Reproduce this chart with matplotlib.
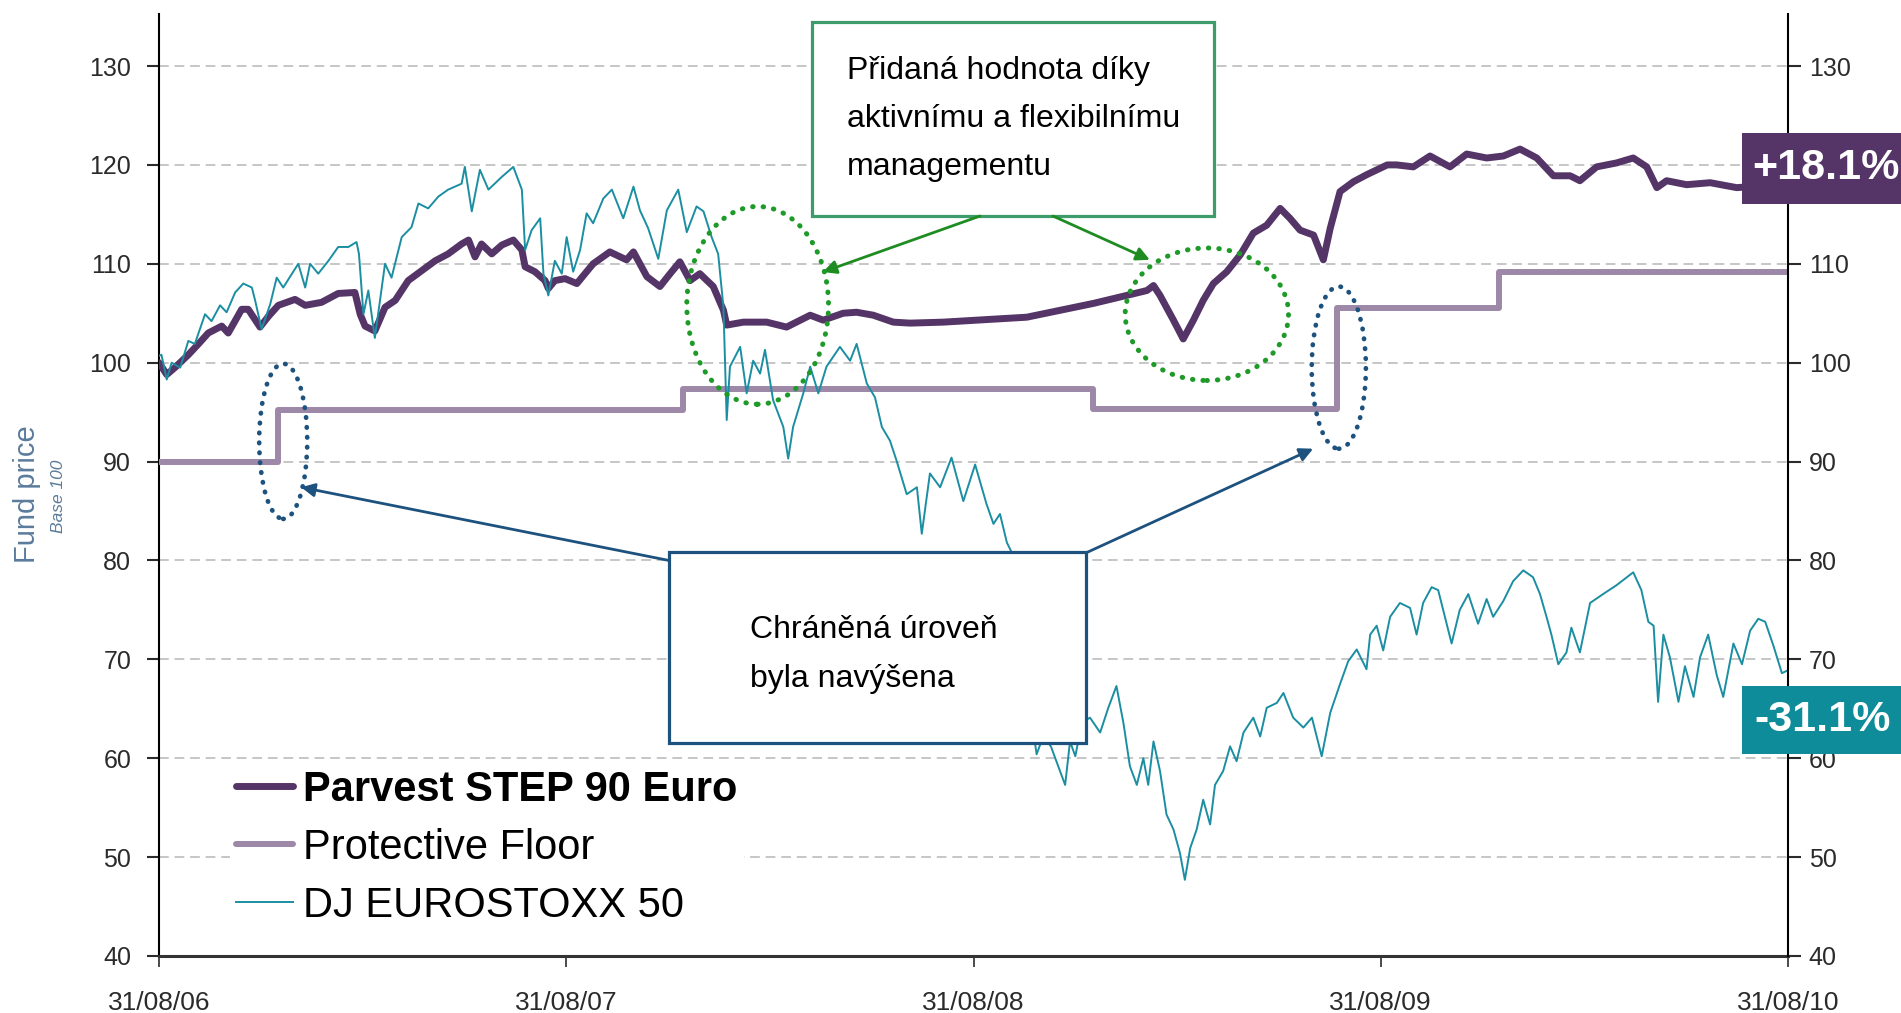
import matplotlib.pyplot as plt
from matplotlib.patches import Ellipse, Rectangle

plt.rcParams["font.family"] = ["Liberation Sans", "DejaVu Sans"]

# x values are years since 31/08/06
x_ticks = [0, 1, 2, 3, 4]
x_labels = ["31/08/06", "31/08/07", "31/08/08", "31/08/09", "31/08/10"]
y_ticks = [40, 50, 60, 70, 80, 90, 100, 110, 120, 130]

series_labels = ["Parvest STEP 90 Euro", "Protective Floor", "DJ EUROSTOXX 50"]

fund_x = [0.000, 0.019, 0.039, 0.072, 0.097, 0.121, 0.154, 0.170, 0.203, 0.219,
          0.248, 0.269, 0.293, 0.334, 0.359, 0.399, 0.440, 0.481, 0.494, 0.506,
          0.530, 0.555, 0.580, 0.612, 0.645, 0.678, 0.710, 0.743, 0.760, 0.776,
          0.792, 0.817, 0.842, 0.870, 0.891, 0.899, 0.923, 0.948, 0.956, 0.972,
          0.997, 1.026, 1.066, 1.107, 1.148, 1.165, 1.198, 1.230, 1.255, 1.279,
          1.304, 1.328, 1.361, 1.386, 1.394, 1.435, 1.492, 1.541, 1.599, 1.631,
          1.680, 1.713, 1.754, 1.803, 1.844, 1.926, 2.008, 2.049, 2.131, 2.213,
          2.295, 2.376, 2.426, 2.442, 2.458, 2.491, 2.515, 2.540, 2.564, 2.589,
          2.622, 2.655, 2.687, 2.720, 2.753, 2.777, 2.802, 2.835, 2.859, 2.876,
          2.900, 2.933, 2.965, 3.016, 3.039, 3.080, 3.121, 3.170, 3.211, 3.260,
          3.301, 3.342, 3.383, 3.424, 3.465, 3.489, 3.530, 3.579, 3.620, 3.653,
          3.678, 3.702, 3.751, 3.809, 3.874, 3.940, 4.000]
fund_y = [100.0, 98.8, 99.5, 100.8, 101.9, 103.0, 103.7, 103.0, 105.4, 105.4,
          103.6, 104.7, 105.8, 106.4, 105.8, 106.1, 107.0, 107.1, 104.9, 103.7,
          103.2, 105.6, 106.3, 108.3, 109.3, 110.3, 111.0, 112.0, 112.4, 110.7,
          112.0, 111.0, 111.9, 112.4, 111.4, 109.7, 109.2, 108.3, 107.5, 108.3,
          108.5, 108.0, 110.0, 111.2, 110.4, 111.2, 108.7, 107.7, 109.0, 110.2,
          108.3, 109.0, 107.7, 105.3, 103.8, 104.1, 104.1, 103.6, 104.8, 104.3,
          105.0, 105.1, 104.8, 104.1, 104.0, 104.1, 104.3, 104.4, 104.6, 105.3,
          106.0, 106.8, 107.3, 107.8, 106.8, 104.3, 102.4, 104.3, 106.3, 108.0,
          109.2, 110.9, 113.1, 113.9, 115.6, 114.6, 113.4, 112.9, 110.4, 113.6,
          117.3, 118.3, 119.0, 120.0, 120.0, 119.8, 120.9, 119.8, 121.1, 120.7,
          120.9, 121.6, 120.7, 118.9, 118.9, 118.4, 119.8, 120.2, 120.7, 119.8,
          117.7, 118.4, 118.0, 118.2, 117.7, 117.9, 118.1]

floor_x = [0.0, 0.293, 1.287, 2.294, 2.892, 3.290, 4.0]
floor_y = [90.0, 95.2, 97.3, 95.3, 105.5, 109.2, 109.2]

stoxx_x = [0.000, 0.006, 0.019, 0.031, 0.052, 0.072, 0.088, 0.113, 0.129, 0.150,
           0.166, 0.187, 0.207, 0.228, 0.236, 0.252, 0.273, 0.289, 0.305, 0.342,
           0.359, 0.371, 0.391, 0.416, 0.440, 0.465, 0.485, 0.491, 0.502, 0.514,
           0.530, 0.555, 0.571, 0.596, 0.620, 0.637, 0.661, 0.686, 0.710, 0.743,
           0.751, 0.768, 0.788, 0.809, 0.842, 0.870, 0.891, 0.899, 0.915, 0.936,
           0.944, 0.956, 0.972, 0.989, 1.001, 1.017, 1.034, 1.050, 1.066, 1.091,
           1.112, 1.140, 1.165, 1.181, 1.201, 1.226, 1.247, 1.275, 1.296, 1.320,
           1.337, 1.357, 1.373, 1.386, 1.394, 1.402, 1.427, 1.443, 1.459, 1.476,
           1.488, 1.508, 1.533, 1.545, 1.557, 1.582, 1.599, 1.619, 1.639, 1.672,
           1.697, 1.713, 1.738, 1.758, 1.775, 1.795, 1.811, 1.836, 1.861, 1.873,
           1.893, 1.918, 1.946, 1.975, 2.004, 2.032, 2.049, 2.065, 2.082, 2.094,
           2.115, 2.135, 2.155, 2.171, 2.190, 2.225, 2.237, 2.250, 2.266, 2.286,
           2.311, 2.331, 2.351, 2.368, 2.384, 2.401, 2.417, 2.429, 2.442, 2.458,
           2.474, 2.491, 2.507, 2.519, 2.532, 2.548, 2.564, 2.581, 2.593, 2.613,
           2.630, 2.646, 2.663, 2.687, 2.704, 2.720, 2.745, 2.761, 2.785, 2.810,
           2.831, 2.855, 2.876, 2.900, 2.920, 2.941, 2.965, 2.974, 2.990, 3.006,
           3.023, 3.047, 3.072, 3.088, 3.104, 3.125, 3.141, 3.174, 3.194, 3.215,
           3.239, 3.260, 3.276, 3.301, 3.325, 3.350, 3.374, 3.391, 3.407, 3.419,
           3.436, 3.456, 3.468, 3.489, 3.514, 3.546, 3.579, 3.620, 3.640, 3.657,
           3.670, 3.681, 3.694, 3.710, 3.731, 3.747, 3.768, 3.784, 3.804, 3.825,
           3.841, 3.866, 3.887, 3.907, 3.927, 3.944, 3.964, 3.985, 4.000]
stoxx_y = [100.7, 100.8, 98.3, 100.0, 99.5, 102.2, 101.9, 104.9, 104.2, 105.8,
           105.1, 107.1, 108.0, 107.6, 106.3, 103.4, 105.9, 108.6, 107.6, 110.0,
           107.6, 110.0, 109.0, 110.3, 111.7, 111.7, 112.2, 111.0, 104.9, 107.3,
           102.5, 110.0, 108.6, 112.7, 113.7, 116.1, 115.6, 116.8, 117.5, 118.1,
           119.8, 115.3, 119.5, 117.5, 118.8, 119.8, 117.5, 111.4, 113.4, 114.6,
           109.0, 106.8, 110.3, 109.0, 112.7, 109.2, 111.4, 115.1, 114.1, 116.6,
           117.5, 114.6, 117.8, 115.4, 113.6, 110.5, 115.4, 117.5, 113.2, 115.8,
           115.3, 112.7, 111.0, 105.6, 94.2, 99.6, 101.6, 96.9, 100.2, 98.9,
           101.3, 96.2, 93.5, 90.3, 93.5, 96.9, 99.6, 96.9, 99.6, 101.6,
           100.2, 101.9, 97.9, 96.5, 93.5, 92.1, 90.1, 86.7, 87.4, 82.7,
           88.8, 87.4, 90.4, 86.0, 89.7, 85.7, 83.7, 84.7, 81.8, 80.8,
           74.0, 66.0, 60.4, 62.2, 61.2, 57.3, 61.7, 60.2, 63.6, 64.1,
           62.6, 65.1, 67.3, 63.6, 59.2, 57.3, 60.0, 57.3, 61.7, 58.7,
           54.3, 52.8, 50.4, 47.7, 50.9, 52.8, 55.8, 53.3, 57.3, 58.7,
           61.2, 59.7, 62.6, 64.1, 62.2, 65.1, 65.6, 66.6, 64.1, 63.1,
           64.1, 60.2, 64.6, 67.5, 69.8, 71.0, 69.0, 72.5, 73.4, 70.9,
           74.3, 75.7, 75.2, 72.5, 75.7, 77.3, 77.0, 71.6, 75.0, 76.6,
           73.6, 76.1, 74.3, 75.9, 77.9, 79.0, 78.3, 76.6, 74.3, 72.5,
           69.5, 70.7, 73.2, 70.7, 75.7, 76.6, 77.5, 78.8, 77.0, 73.8,
           73.4, 65.7, 72.5, 70.2, 65.7, 69.3, 66.2, 70.2, 72.5, 68.4,
           66.2, 71.6, 69.5, 72.9, 74.1, 73.8, 71.4, 68.6, 68.9]

fund_change = "+18.1%"
stoxx_change = "-31.1%"

green_note = ["Přidaná hodnota díky", "aktivnímu a flexibilnímu", "managementu"]
blue_note = ["Chráněná úroveň", "byla navýšena"]

FUND_COLOR = "#553567"
FLOOR_COLOR = "#9d88a8"
STOXX_COLOR = "#1b8ea2"
GREEN_BOX = "#3d9b6c"
BLUE = "#1d527f"
TICK_COLOR = "#2b2b2b"

fig = plt.figure(figsize=(19.01, 10.13), dpi=100)
ax = fig.add_axes([0.08364, 0.05627, 0.85692, 0.92991])
ax.set_xlim(0, 4)
ax.set_ylim(40, 135.26)

ax.grid(axis="y", color="#c6c6c6", linestyle=(0, (5, 3)), linewidth=1.4, zorder=1)
ax.set_axisbelow(True)

floor_line, = ax.plot(floor_x, floor_y, drawstyle="steps-post", color=FLOOR_COLOR,
                      lw=4.3, zorder=3, solid_capstyle="round")
fund_line, = ax.plot(fund_x, fund_y, color=FUND_COLOR, lw=5, zorder=3,
                     solid_capstyle="round")
stoxx_line, = ax.plot(stoxx_x, stoxx_y, color=STOXX_COLOR, lw=1.4, zorder=3)

# axes styling
ax.spines["top"].set_visible(False)
ax.spines["right"].set_visible(False)
ax.spines["left"].set_linewidth(1.5)
ax.spines["bottom"].set_linewidth(2.2)
ax.spines["bottom"].set_color("#333333")
ax.set_xticks(x_ticks)
ax.set_xticklabels(x_labels)
ax.set_yticks(y_ticks)
ax.tick_params(axis="x", direction="out", length=8, width=1.2, labelsize=19,
               pad=17, colors=TICK_COLOR)
ax.tick_params(axis="y", direction="out", length=9, width=1.5, labelsize=18,
               pad=11, colors=TICK_COLOR)

# right axis: the 120 label sits under the fund performance box
ax2 = ax.twinx()
ax2.set_ylim(ax.get_ylim())
ax2.set_yticks(y_ticks)
ax2.set_yticklabels(["" if v == 120 else str(v) for v in y_ticks])
ax2.spines["top"].set_visible(False)
ax2.spines["left"].set_visible(False)
ax2.spines["bottom"].set_visible(False)
ax2.spines["right"].set_linewidth(1.5)
ax2.tick_params(axis="y", direction="out", length=9, width=1.5, labelsize=18,
                pad=6, colors=TICK_COLOR)

fig.text(27 / 1901, 1 - 494 / 1013, "Fund price", rotation=90, ha="center",
         va="center", fontsize=21, color="#5b7b9c")
fig.text(58 / 1901, 1 - 496 / 1013, "Base 100", rotation=90, ha="center",
         va="center", fontsize=12.5, style="italic", color="#5b7b9c")

leg = ax.legend(handles=[fund_line, floor_line, stoxx_line], labels=series_labels,
                loc="upper left", bbox_to_anchor=(0.0436, 0.204), fontsize=30,
                frameon=True, facecolor="white", edgecolor="none", framealpha=1,
                fancybox=False, borderpad=0.15, handlelength=1.35,
                handletextpad=0.25, labelspacing=0.43, borderaxespad=0)
leg.get_texts()[0].set_fontweight("bold")
leg.set_zorder(6)

# annotation boxes
ax.add_patch(Rectangle((1.603, 114.83), 0.987, 19.62, facecolor="white",
                       edgecolor=GREEN_BOX, lw=2.3, zorder=5))
for line, yv in zip(green_note, [128.69, 123.83, 118.98]):
    ax.text(1.689, yv, line, fontsize=23, va="baseline", ha="left", zorder=6)

ax.add_patch(Rectangle((1.252, 61.55), 1.024, 19.31, facecolor="white",
                       edgecolor=BLUE, lw=2.3, zorder=5))
for line, yv in zip(blue_note, [72.16, 67.2]):
    ax.text(1.451, yv, line, fontsize=23, va="baseline", ha="left", zorder=6)

# arrows
for start, tip, color in [((2.016, 114.83), (1.630, 109.17), "#1f8c22"),
                          ((2.195, 114.83), (2.433, 110.4), "#1f8c22"),
                          ((1.252, 80.0), (0.349, 87.4), BLUE),
                          ((2.278, 80.8), (2.834, 91.3), BLUE)]:
    ax.annotate("", xy=tip, xytext=start, zorder=5,
                arrowprops=dict(arrowstyle="-|>", color=color, lw=2,
                                mutation_scale=20, shrinkA=0, shrinkB=0))

# dotted ellipses
for cx, cy, w, h, color, lw in [(1.470, 105.8, 0.348, 20.0, "#1e9a28", 3.6),
                                (2.573, 104.9, 0.401, 13.4, "#1e9a28", 3.6),
                                (0.305, 92.05, 0.118, 15.7, BLUE, 3.4),
                                (2.897, 99.5, 0.133, 16.4, BLUE, 3.4)]:
    ax.add_patch(Ellipse((cx, cy), w, h, fill=False, edgecolor=color, lw=lw,
                         linestyle=(0, (0.1, 2)), capstyle="round", zorder=5))

# end-of-period performance labels
ax2.add_patch(Rectangle((3.887, 116.05), 0.6, 7.15, facecolor=FUND_COLOR,
                        edgecolor="none", zorder=7, clip_on=False))
ax2.text(3.912, 119.64, fund_change, color="white", fontsize=31,
         fontweight="bold", va="center", ha="left", zorder=8, clip_on=False)
ax2.add_patch(Rectangle((3.887, 60.4), 0.6, 6.9, facecolor="#0e8c99",
                        edgecolor="none", zorder=7, clip_on=False))
ax2.text(3.917, 63.87, stoxx_change, color="white", fontsize=31,
         fontweight="bold", va="center", ha="left", zorder=8, clip_on=False)

plt.savefig("out.png", dpi=100)
